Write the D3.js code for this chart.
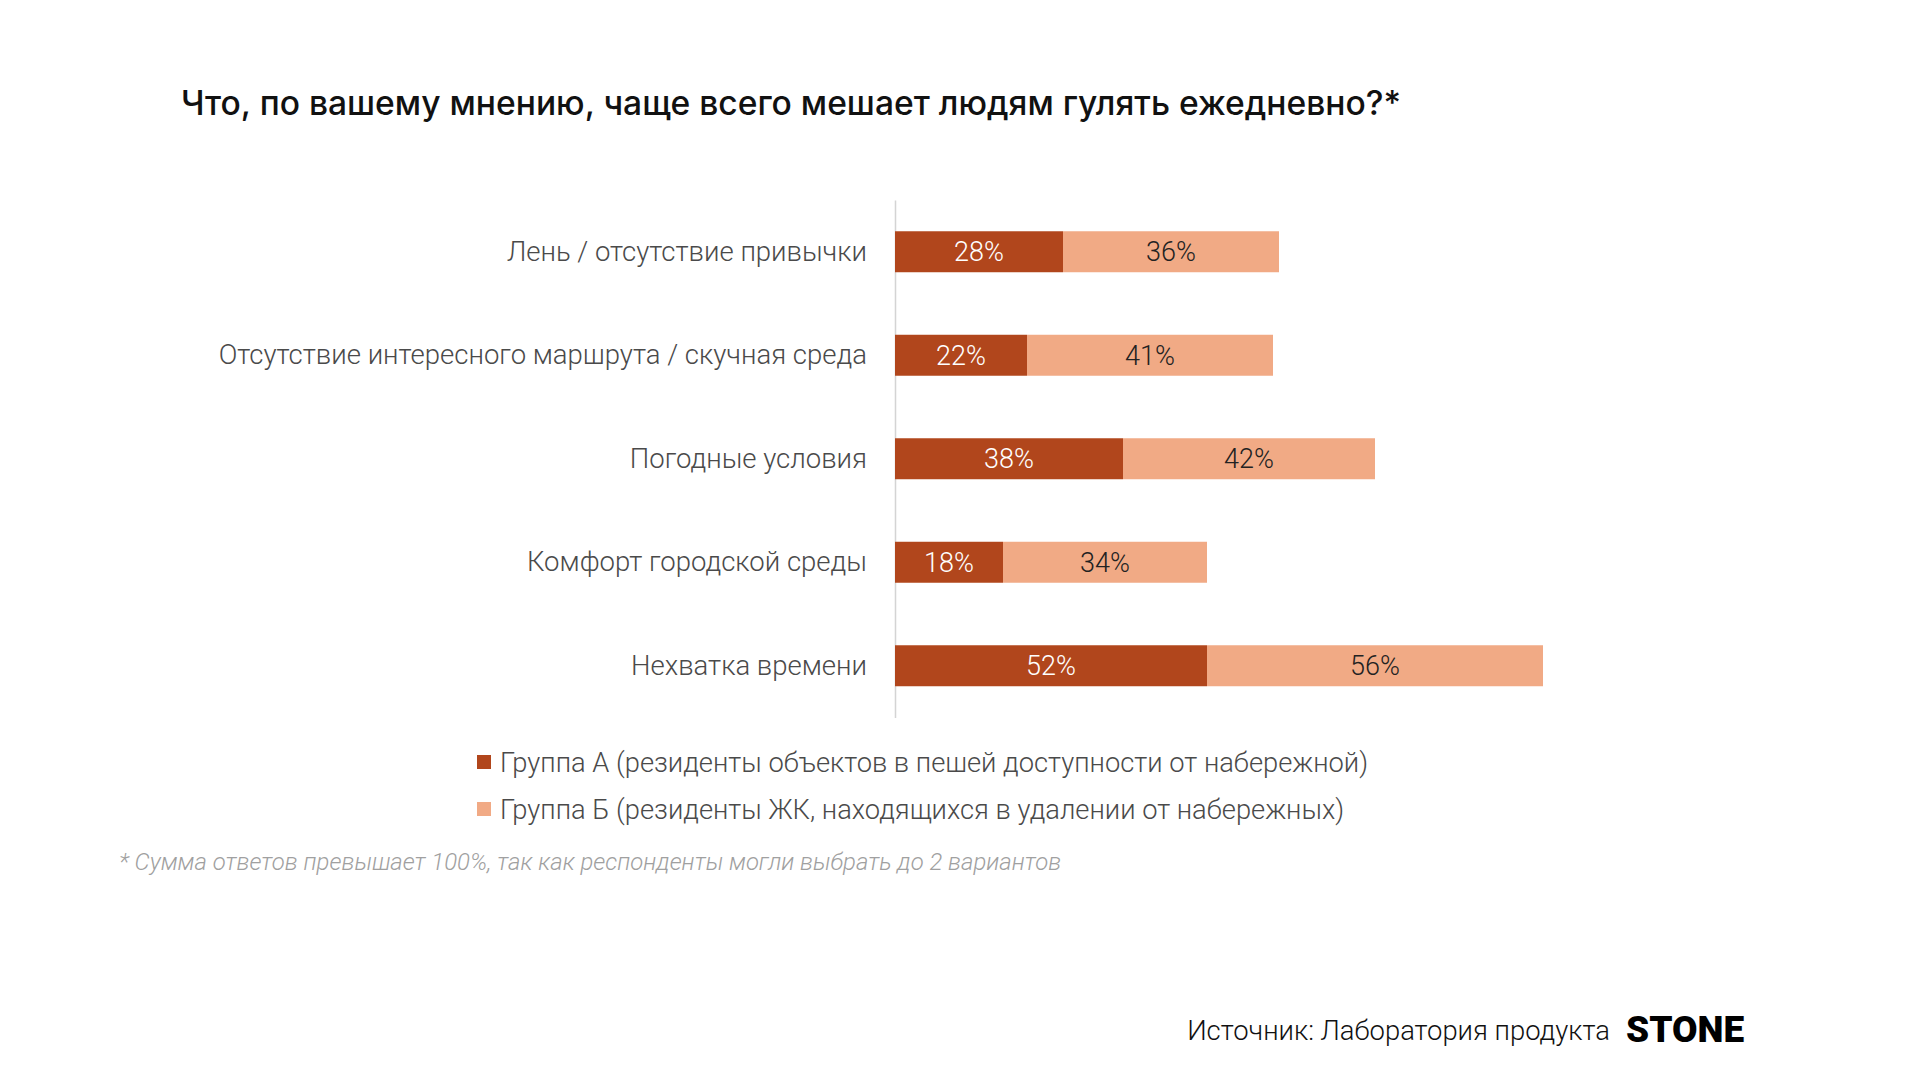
<!DOCTYPE html>
<html>
<head>
<meta charset="utf-8">
<script src="https://cdn.jsdelivr.net/npm/d3@7"></script>
<style>
  body { margin: 0; background: #fff; }
  svg { display: block; }
</style>
</head>
<body>
<script>
// data
var categories = [
  "Лень / отсутствие привычки",
  "Отсутствие интересного маршрута / скучная среда",
  "Погодные условия",
  "Комфорт городской среды",
  "Нехватка времени"
];
var groupA = [28, 22, 38, 18, 52];
var groupB = [36, 41, 42, 34, 56];
var seriesNames = [
  "Группа А (резиденты объектов в пешей доступности от набережной)",
  "Группа Б (резиденты ЖК, находящихся в удалении от набережных)"
];
var colors = ["#b1461c", "#f1aa85"];

var W = 1920, H = 1080;

var svg = d3.select("body").append("svg")
  .attr("width", W)
  .attr("height", H);

// title
svg.append("text")
  .attr("x", 181)
  .attr("y", 103)
  .attr("dy", "0.36em")
  .style("font-family", "Inter")
  .style("font-weight", 500)
  .style("font-size", "33.6px")
  .style("fill", "#111")
  .text("Что, по вашему мнению, чаще всего мешает людям гулять ежедневно?*");

var x = d3.scaleLinear().domain([0, 100]).range([895, 1495]);
var y = d3.scaleBand()
  .domain(categories)
  .range([200, 717.5])
  .paddingInner(0.604)
  .paddingOuter(0.302);

// category axis
var yAxis = svg.append("g")
  .attr("transform", "translate(" + x(0) + ",0)")
  .call(d3.axisLeft(y).tickSize(0).tickSizeOuter(0).tickPadding(28));

yAxis.select(".domain").attr("stroke", "#d4d4d4").attr("stroke-width", 1.5);
yAxis.selectAll("text")
  .style("font-family", "Roboto")
  .style("font-weight", 300)
  .style("font-size", "27.5px")
  .style("fill", "#4a4a4a");

// stacked rows
var rows = categories.map(function(c, i) {
  return { cat: c, a: groupA[i], b: groupB[i] };
});

var g = svg.append("g");

// group A segments
g.selectAll("rect.a")
  .data(rows)
  .enter()
  .append("rect")
  .attr("class", "a")
  .attr("x", x(0))
  .attr("y", function(d) { return y(d.cat); })
  .attr("width", function(d) { return x(d.a) - x(0); })
  .attr("height", y.bandwidth())
  .style("fill", colors[0]);

// group B segments
g.selectAll("rect.b")
  .data(rows)
  .enter()
  .append("rect")
  .attr("class", "b")
  .attr("x", function(d) { return x(d.a); })
  .attr("y", function(d) { return y(d.cat); })
  .attr("width", function(d) { return x(d.a + d.b) - x(d.a); })
  .attr("height", y.bandwidth())
  .style("fill", colors[1]);

// value labels
var valStyle = function(sel) {
  sel.attr("text-anchor", "middle")
    .attr("dy", "0.36em")
    .style("font-family", "Roboto")
    .style("font-weight", 300)
    .style("font-size", "27px");
};

g.selectAll("text.a")
  .data(rows)
  .enter()
  .append("text")
  .attr("class", "a")
  .attr("x", function(d) { return (x(0) + x(d.a)) / 2; })
  .attr("y", function(d) { return y(d.cat) + y.bandwidth() / 2; })
  .call(valStyle)
  .style("fill", "#fff")
  .text(function(d) { return d.a + "%"; });

g.selectAll("text.b")
  .data(rows)
  .enter()
  .append("text")
  .attr("class", "b")
  .attr("x", function(d) { return (x(d.a) + x(d.a + d.b)) / 2; })
  .attr("y", function(d) { return y(d.cat) + y.bandwidth() / 2; })
  .call(valStyle)
  .style("fill", "#222")
  .text(function(d) { return d.b + "%"; });

// legend
var legend = svg.selectAll("g.legend")
  .data(seriesNames)
  .enter()
  .append("g")
  .attr("class", "legend")
  .attr("transform", function(d, i) { return "translate(477," + (762 + i * 47) + ")"; });

legend.append("rect")
  .attr("x", 0)
  .attr("y", -7)
  .attr("width", 14)
  .attr("height", 14)
  .style("fill", function(d, i) { return colors[i]; });

legend.append("text")
  .attr("x", 23)
  .attr("dy", "0.36em")
  .style("font-family", "Roboto")
  .style("font-weight", 300)
  .style("font-size", "27.3px")
  .style("fill", "#4a4a4a")
  .text(function(d) { return d; });

// footnote
svg.append("text")
  .attr("x", 119)
  .attr("y", 861)
  .attr("dy", "0.36em")
  .style("font-family", "Roboto")
  .style("font-weight", 300)
  .style("font-style", "italic")
  .style("font-size", "23.9px")
  .style("fill", "#a0a0a0")
  .text("* Сумма ответов превышает 100%, так как респонденты могли выбрать до 2 вариантов");

// source
svg.append("text")
  .attr("x", 1610)
  .attr("y", 1030)
  .attr("dy", "0.36em")
  .attr("text-anchor", "end")
  .style("font-family", "Roboto")
  .style("font-weight", 300)
  .style("font-size", "27.4px")
  .style("fill", "#111")
  .text("Источник: Лаборатория продукта");

svg.append("text")
  .attr("x", 1626)
  .attr("y", 1029)
  .attr("dy", "0.36em")
  .style("font-family", "Roboto")
  .style("font-weight", 900)
  .style("font-size", "37px")
  .style("fill", "#000")
  .text("STONE");
</script>
</body>
</html>
